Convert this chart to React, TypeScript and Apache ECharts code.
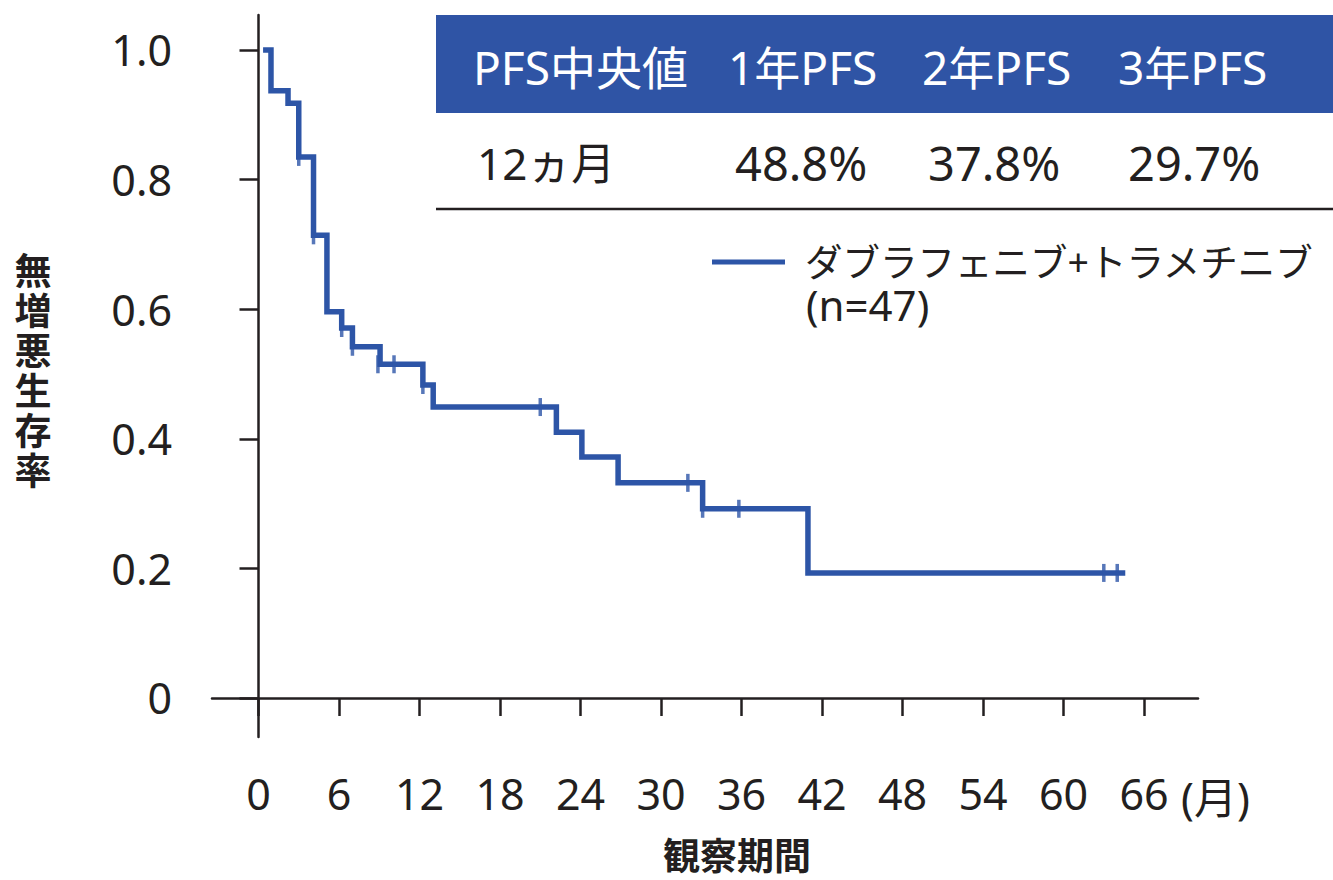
import React, { useEffect, useRef } from "react";
import * as echarts from "echarts";

// Kaplan–Meier step points: [month, survival]
const kmTimes = [0.34, 0.93, 2.2, 3.0, 4.1, 5.1, 6.2, 7.0, 9.06, 12.25, 13.02, 22.2, 24.1, 26.8, 33.1, 40.95, 64.6];
const kmSurv = [1.0, 0.937, 0.918, 0.835, 0.714, 0.596, 0.571, 0.542, 0.515, 0.483, 0.449, 0.41, 0.372, 0.332, 0.292, 0.193, 0.193];
// censored observations
const censorTimes = [3.0, 4.1, 6.2, 7.0, 8.9, 10.1, 12.25, 21.0, 32.0, 33.1, 35.8, 63.0, 64.0];
const censorSurv = [0.835, 0.714, 0.571, 0.542, 0.515, 0.515, 0.483, 0.449, 0.332, 0.292, 0.292, 0.193, 0.193];

const xTicks = [0, 6, 12, 18, 24, 30, 36, 42, 48, 54, 60, 66];
const yTicks = [0, 0.2, 0.4, 0.6, 0.8, 1.0];

const tableHeader = ["PFS中央値", "1年PFS", "2年PFS", "3年PFS"];
const tableRow = ["12ヵ月", "48.8%", "37.8%", "29.7%"];
const seriesName = "ダブラフェニブ+トラメチニブ";
const seriesN = "(n=47)";
const yName = ["無", "増", "悪", "生", "存", "率"];
const xName = "観察期間";
const xUnit = "(月)";

const BLUE = "#2D55A7";
const INK = "#231F20";
const FONT = "'Noto Sans', 'Noto Sans CJK JP', sans-serif";

export default function App() {
  const ref = useRef<HTMLDivElement>(null);
  useEffect(() => {
    const chart = echarts.init(ref.current!, null, { renderer: "svg" });
    const headerX = [473, 728, 922, 1118];
    const rowX = [477, 735, 928, 1128];
    const rowSize = [44, 47, 47, 47];
    const graphics: any[] = [
      { type: "rect", shape: { x: 436, y: 15, width: 897, height: 98 }, style: { fill: "#2F54A5" } },
      ...tableHeader.map((t, i) => ({
        type: "text", x: headerX[i], y: 67,
        style: { text: t, fill: "#fff", font: `46px ${FONT}`, textAlign: "left", textVerticalAlign: "middle" },
      })),
      ...tableRow.map((t, i) => ({
        type: "text", x: rowX[i], y: 163,
        style: { text: t, fill: INK, font: `${rowSize[i]}px ${FONT}`, textAlign: "left", textVerticalAlign: "middle" },
      })),
      { type: "line", shape: { x1: 436, y1: 209, x2: 1333, y2: 209 }, style: { stroke: INK, lineWidth: 2.5 } },
      { type: "line", shape: { x1: 712, y1: 262, x2: 785, y2: 262 }, style: { stroke: BLUE, lineWidth: 5 } },
      { type: "text", x: 805, y: 261, style: { text: seriesName, fill: INK, font: `37.5px ${FONT}`, textAlign: "left", textVerticalAlign: "middle" } },
      { type: "text", x: 806, y: 304, style: { text: seriesN, fill: INK, font: `42px ${FONT}`, textAlign: "left", textVerticalAlign: "middle" } },
      { type: "text", x: 1181, y: 797, style: { text: xUnit, fill: INK, font: `43px ${FONT}`, textAlign: "left", textVerticalAlign: "middle" } },
      { type: "text", x: 737, y: 855, style: { text: xName, fill: INK, font: `bold 37px ${FONT}`, textAlign: "center", textVerticalAlign: "middle" } },
      ...yName.map((c, i) => ({
        type: "text", x: 33, y: 270 + i * 40,
        style: { text: c, fill: INK, font: `bold 37px ${FONT}`, textAlign: "center", textVerticalAlign: "middle" },
      })),
    ];
    chart.setOption({
      animation: false,
      grid: { left: 212, top: 15, right: 135, bottom: 143, containLabel: false },
      xAxis: {
        type: "value", min: -3.466, max: 70.02,
        splitLine: { show: false },
        axisLine: { show: true, lineStyle: { color: INK, width: 2.5 } },
        axisTick: { show: true, customValues: xTicks, length: 18, lineStyle: { color: INK, width: 2.5 } },
        axisLabel: { customValues: xTicks, color: INK, fontSize: 43, fontFamily: FONT, margin: 35 },
      },
      yAxis: {
        type: "value", min: -0.0602, max: 1.054,
        splitLine: { show: false },
        axisLine: { show: true, lineStyle: { color: INK, width: 2.5 } },
        axisTick: { show: true, customValues: yTicks, length: 19, lineStyle: { color: INK, width: 2.5 } },
        axisLabel: {
          customValues: yTicks, color: INK, fontSize: 43, fontFamily: FONT, margin: 40,
          formatter: (v: number) => (Math.abs(v) < 1e-9 ? "0" : v.toFixed(1)),
        },
      },
      graphic: graphics,
      series: [
        {
          type: "line", step: "end", symbol: "none",
          data: kmTimes.map((t, i) => [t, kmSurv[i]]),
          lineStyle: { color: BLUE, width: 5.5, cap: "butt", join: "miter" },
          z: 3,
        },
        {
          type: "scatter", symbol: "rect", symbolSize: [3.5, 18],
          itemStyle: { color: BLUE },
          data: censorTimes.map((t, i) => [t, censorSurv[i]]),
          z: 4,
        },
      ],
    });
    return () => chart.dispose();
  }, []);
  return <div ref={ref} style={{ width: 1333, height: 880, position: "absolute", left: 0, top: 0 }} />;
}
